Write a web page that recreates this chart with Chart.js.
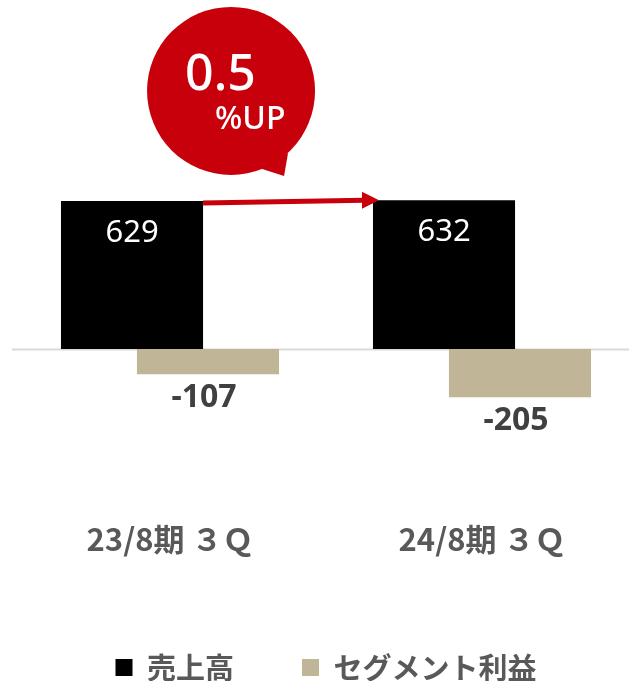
<!DOCTYPE html>
<html lang="ja">
<head>
    <meta charset="UTF-8">
    <title>売上高・セグメント利益</title>
    <script src="https://cdn.jsdelivr.net/npm/chart.js"></script>
</head>
<style>
    body {
        margin: 0;
        background: #ffffff;
        overflow: hidden;
    }
    .wrap {
        width: 640px;
        height: 681px;
        position: relative;
    }
</style>
<body>
    <div class="wrap">
        <canvas id="salesChart"></canvas>
    </div>
    <script>
    const periods = ['23/8期 ３Ｑ', '24/8期 ３Ｑ'];
    const sales = [629, 632];
    const segmentProfit = [-107, -205];
    const growthText = ['0.5', '%UP'];

    const JP = '"Noto Sans CJK JP", "Noto Sans", sans-serif';

    // zero line, value labels, arrow and the red bubble
    const decorations = {
        id: 'decorations',
        beforeDatasetsDraw(chart) {
            const ctx = chart.ctx;
            const y0 = chart.scales.y.getPixelForValue(0);
            ctx.save();
            ctx.strokeStyle = '#d9d9d9';
            ctx.lineWidth = 2;
            ctx.beginPath();
            ctx.moveTo(chart.chartArea.left - 2, y0 + 0.5);
            ctx.lineTo(chart.width, y0 + 0.5);
            ctx.stroke();
            ctx.restore();
        },
        afterDatasetsDraw(chart) {
            const ctx = chart.ctx;
            const salesBars = chart.getDatasetMeta(0).data;
            const profitBars = chart.getDatasetMeta(1).data;
            ctx.save();
            ctx.textAlign = 'center';
            ctx.textBaseline = 'middle';

            ctx.fillStyle = '#ffffff';
            ctx.font = '31px "Noto Sans", sans-serif';
            salesBars.forEach((bar, i) => {
                ctx.fillText(String(sales[i]), bar.x, bar.y + 32);
            });

            ctx.fillStyle = '#404040';
            ctx.font = 'bold 32px "Noto Sans", sans-serif';
            profitBars.forEach((bar, i) => {
                ctx.fillText(String(segmentProfit[i]), bar.x - 4, bar.y + 24);
            });

            // arrow between the sales bars
            const a = salesBars[0], b = salesBars[1];
            const x1 = a.x + a.width / 2, y1 = a.y + 2;
            const x2 = b.x - b.width / 2 + 6, y2 = b.y;
            ctx.strokeStyle = '#c8000b';
            ctx.fillStyle = '#c8000b';
            ctx.lineWidth = 5;
            ctx.beginPath();
            ctx.moveTo(x1, y1);
            ctx.lineTo(x2 - 15, y2);
            ctx.stroke();
            ctx.beginPath();
            ctx.moveTo(x2, y2);
            ctx.lineTo(x2 - 17, y2 - 8.5);
            ctx.lineTo(x2 - 17, y2 + 8.5);
            ctx.closePath();
            ctx.fill();

            // speech bubble
            const cx = x1 + 28, cy = y1 - 112, r = 84;
            ctx.beginPath();
            ctx.arc(cx, cy, r, 0, Math.PI * 2);
            ctx.fill();
            ctx.beginPath();
            ctx.moveTo(cx + 28, cy + 77);
            ctx.lineTo(cx + 53, cy + 85);
            ctx.lineTo(cx + 57, cy + 62);
            ctx.closePath();
            ctx.fill();

            ctx.fillStyle = '#ffffff';
            ctx.textAlign = 'left';
            ctx.textBaseline = 'alphabetic';
            ctx.font = '500 50px "Noto Sans", sans-serif';
            ctx.fillText(growthText[0], cx - 46, cy - 1);
            ctx.font = '500 32px "Noto Sans", sans-serif';
            ctx.fillText(growthText[1], cx - 16, cy + 38);
            ctx.restore();
        }
    };

    new Chart(document.getElementById('salesChart'), {
        type: 'bar',
        data: {
            labels: periods,
            datasets: [{
                label: '売上高',
                data: sales,
                backgroundColor: '#000000',
                borderWidth: 0,
                categoryPercentage: 0.487,
                barPercentage: 1.87
            }, {
                label: 'セグメント利益',
                data: segmentProfit,
                backgroundColor: '#c0b597',
                borderWidth: 0,
                categoryPercentage: 0.487,
                barPercentage: 1.87
            }]
        },
        options: {
            responsive: true,
            maintainAspectRatio: false,
            animation: false,
            layout: {
                padding: { left: 14, right: 2, top: 0, bottom: 0 }
            },
            scales: {
                x: {
                    grid: { display: false, drawTicks: false },
                    border: { display: false },
                    ticks: {
                        color: '#595959',
                        padding: 20,
                        font: { family: JP, size: 31, weight: 'bold' }
                    },
                    afterFit(scale) {
                        scale.height += 7;
                    }
                },
                y: {
                    display: false,
                    min: -645,
                    max: 1483
                }
            },
            plugins: {
                legend: {
                    position: 'bottom',
                    maxHeight: 96,
                    labels: {
                        boxWidth: 17,
                        boxHeight: 17,
                        padding: 68,
                        color: '#595959',
                        font: { family: JP, size: 29, weight: 'bold' }
                    }
                },
                tooltip: { enabled: false }
            }
        },
        plugins: [decorations]
    });
    </script>
</body>
</html>
